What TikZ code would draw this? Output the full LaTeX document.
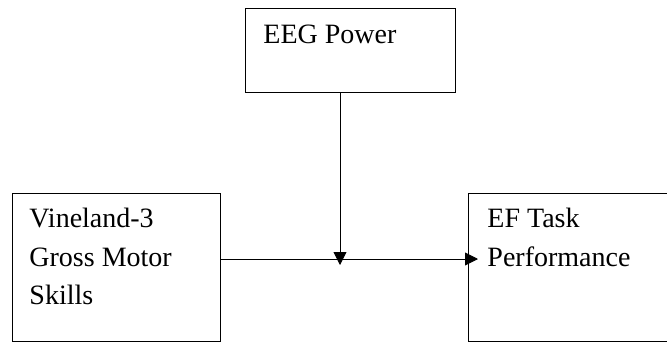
\documentclass[tikz,border=0pt]{standalone}
\usepackage{fontspec}
\setmainfont{Liberation Serif}
\usetikzlibrary{positioning,arrows.meta}

\begin{document}
\begin{tikzpicture}[x=1pt, y=1pt, line width=0.9pt,
    box/.style={draw, rectangle, inner sep=0pt, anchor=north west},
    lbl/.style={inner sep=0pt, align=left, font=\fontsize{28}{38.5}\selectfont},
    arr/.style={-{Triangle[length=13pt, width=13pt]}}]

  \useasboundingbox (0,0) rectangle (667,-341);

  \node[box, minimum width=210pt, minimum height=84pt] (eeg) at (245,-7.7) {};
  \node[box, minimum width=208pt, minimum height=148pt] (gms) at (12,-193) {};
  \node[box, minimum width=220pt, minimum height=148pt] (ef) at (468,-193) {};

  \node[lbl, below right=17pt and 18pt of eeg.north west] (eegtxt) {EEG Power};
  \node[lbl, below right=15pt and 17pt of gms.north west] (gmstxt) {Vineland-3\\Gross Motor\\Skills};
  \node[lbl, below right=15pt and 19pt of ef.north west] (eftxt) {EF Task\\Performance};

  \coordinate (meet) at (340,-259);

  \draw[arr] (gms.east |- meet) -- ([xshift=10pt]ef.west |- meet);
  \draw[arr] (eeg.south -| meet) -- ([yshift=-6pt]meet);

\end{tikzpicture}
\end{document}
